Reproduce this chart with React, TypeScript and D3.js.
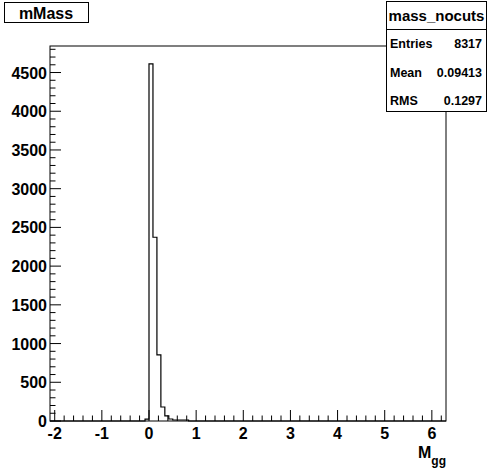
import React, { useRef, useEffect } from "react";
import * as d3 from "d3";

// histogram definition (100 bins over the range)
const xMin = -2.1;
const xMax = 6.3;
const nBins = 100;
// low edges of the filled bins and their contents
const binLowEdges = [-0.084, 0, 0.084, 0.168, 0.252, 0.336, 0.42, 0.504, 0.588, 0.672, 0.756];
const binCounts = [25, 4612, 2373, 853, 181, 65, 26, 13, 13, 13, 13];

const xTicks = [-2, -1, 0, 1, 2, 3, 4, 5, 6];
const yTicks = [0, 500, 1000, 1500, 2000, 2500, 3000, 3500, 4000, 4500];

const histTitle = "mMass";
const statsName = "mass_nocuts";
const statsLabels = ["Entries", "Mean", "RMS"];
const statsValues = ["8317", "0.09413", "0.1297"];

const W = 496;
const H = 468;
const FONT = "'Liberation Sans', Arial, Helvetica, sans-serif";

function App() {
  const svgRef = useRef(null);

  useEffect(() => {
    const svg = d3.select(svgRef.current);
    svg.selectAll("*").remove();

    const left = 50, right = 446, top = 46, bottom = 421;
    const x = d3.scaleLinear().domain([xMin, xMax]).range([left, right]);
    const yMax = d3.max(binCounts) * 1.05;
    const y = d3.scaleLinear().domain([0, yMax]).range([bottom, top]);

    // frame
    svg.append("rect")
      .attr("x", left).attr("y", top)
      .attr("width", right - left).attr("height", bottom - top)
      .attr("fill", "white").attr("stroke", "black").attr("stroke-width", 1);

    // full bin contents
    const bw = (xMax - xMin) / nBins;
    const contents = d3.range(nBins).map(i => {
      const lo = xMin + i * bw;
      const j = binLowEdges.findIndex(e => Math.abs(e - lo) < bw / 10);
      return { lo, hi: lo + bw, v: j >= 0 ? binCounts[j] : 0 };
    });

    const pts = [];
    contents.forEach(b => {
      pts.push([x(b.lo), y(b.v)]);
      pts.push([x(b.hi), y(b.v)]);
    });
    svg.append("path")
      .attr("d", d3.line()(pts))
      .attr("fill", "none").attr("stroke", "black").attr("stroke-width", 1.2);

    // x axis ticks
    const gx = svg.append("g");
    d3.range(-2, 6.3, 0.2).forEach(t => {
      const tt = Math.round(t * 10) / 10;
      const major = Math.abs(tt - Math.round(tt)) < 1e-6;
      gx.append("line")
        .attr("x1", x(tt)).attr("x2", x(tt))
        .attr("y1", bottom).attr("y2", bottom - (major ? 11 : 5.5))
        .attr("stroke", "black");
    });
    xTicks.forEach(t => {
      gx.append("text")
        .attr("x", x(t)).attr("y", 439)
        .attr("text-anchor", "middle")
        .attr("font-family", FONT).attr("font-weight", "bold").attr("font-size", 16)
        .text(t);
    });

    // y axis ticks
    const gy = svg.append("g");
    d3.range(0, yMax, 100).forEach(t => {
      const major = t % 500 === 0;
      gy.append("line")
        .attr("x1", left).attr("x2", left + (major ? 11 : 5.5))
        .attr("y1", y(t)).attr("y2", y(t))
        .attr("stroke", "black");
    });
    yTicks.forEach(t => {
      gy.append("text")
        .attr("x", 47).attr("y", y(t) + 6)
        .attr("text-anchor", "end")
        .attr("font-family", FONT).attr("font-weight", "bold").attr("font-size", 16)
        .text(t);
    });

    // x axis title M_gg
    const xt = svg.append("text")
      .attr("x", 418).attr("y", 458)
      .attr("font-family", FONT).attr("font-weight", "bold").attr("font-size", 16);
    xt.append("tspan").text("M");
    xt.append("tspan").attr("dy", 7).attr("font-size", 12).text("gg");

    // title box
    svg.append("rect")
      .attr("x", 4.5).attr("y", 2.5).attr("width", 84).attr("height", 20)
      .attr("fill", "white").attr("stroke", "black");
    svg.append("text")
      .attr("x", 46).attr("y", 18.5)
      .attr("text-anchor", "middle")
      .attr("font-family", FONT).attr("font-weight", "bold").attr("font-size", 16)
      .text(histTitle);

    // stats box
    const sx0 = 386.5, sx1 = 486.5, sy0 = 1.5, sy1 = 111.5;
    svg.append("rect")
      .attr("x", sx0).attr("y", sy0).attr("width", sx1 - sx0).attr("height", sy1 - sy0)
      .attr("fill", "white").attr("stroke", "black");
    svg.append("line")
      .attr("x1", sx0).attr("x2", sx1).attr("y1", 29.5).attr("y2", 29.5)
      .attr("stroke", "black");
    svg.append("text")
      .attr("x", (sx0 + sx1) / 2).attr("y", 21)
      .attr("text-anchor", "middle")
      .attr("font-family", FONT).attr("font-weight", "bold").attr("font-size", 15)
      .text(statsName);
    statsLabels.forEach((lab, i) => {
      const yy = 48 + i * 28.5;
      svg.append("text")
        .attr("x", 390).attr("y", yy)
        .attr("font-family", FONT).attr("font-weight", "bold").attr("font-size", 12.5)
        .text(lab);
      svg.append("text")
        .attr("x", 482).attr("y", yy)
        .attr("text-anchor", "end")
        .attr("font-family", FONT).attr("font-weight", "bold").attr("font-size", 12.5)
        .text(statsValues[i]);
    });
  }, []);

  return (
    <div style={{ position: "absolute", left: 0, top: 0, width: W, height: H, background: "white" }}>
      <svg ref={svgRef} width={W} height={H} style={{ display: "block" }} />
    </div>
  );
}

export default App;
